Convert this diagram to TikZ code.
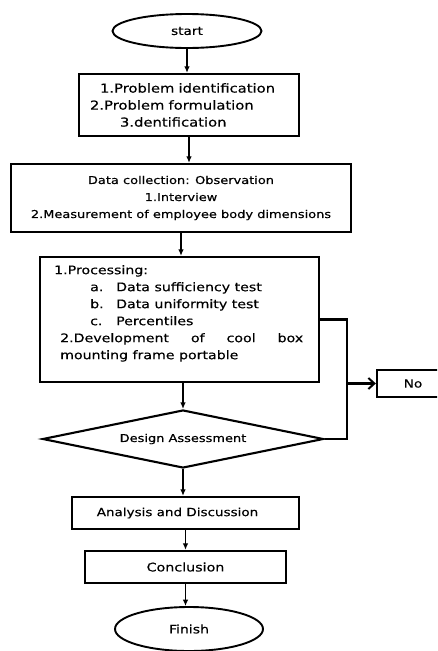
\documentclass[tikz,border=0pt]{standalone}
\usepackage{fontspec}
\setmainfont{DejaVu Sans}[FakeStretch=1.2,FakeBold=0.4]
\usetikzlibrary{shapes.geometric,arrows.meta}
\newcommand{\myfs}[1]{\fontsize{#1}{17}\selectfont}
\tikzset{
  boxst/.style={draw, line width=2.3pt, inner sep=0pt},
  ellst/.style={draw, ellipse, line width=1.9pt, inner sep=0pt},
  diast/.style={draw, diamond, line width=2.1pt, inner sep=0pt, aspect=4.85},
  arr/.style={-{Latex[length=6.5pt,width=5.5pt]}, line width=1.2pt},
  loopst/.style={line width=2.3pt},
  noarr/.style={-{Straight Barb[length=6pt,width=11pt,line width=2pt]}, line width=2.3pt}
}
\begin{document}
\begin{tikzpicture}[x=1pt,y=-1pt]
\path[use as bounding box] (0,0) rectangle (437,651);
\fill[white] (0,0) rectangle (437,651);
\clip (0,0) rectangle (437,651);

\node[ellst, minimum width=149pt, minimum height=34pt, font=\myfs{11.4}] (start) at (187,31) {start};

\node[boxst, minimum width=220pt, minimum height=62pt, text width=198pt, align=left, font=\myfs{12.3}] (idb) at (189,105)
  {\hspace*{10pt}1.Problem identification\\2.Problem formulation\\\hspace*{30pt}3.dentification};

\node[boxst, minimum width=340pt, minimum height=68pt, align=center, font=\myfs{10.8}] (dc) at (181,198)
  {Data collection: Observation\\1.Interview\\2.Measurement of employee body dimensions};

\node[boxst, minimum width=279pt, minimum height=125pt] (proc) at (179.5,319.5) {};
\node[inner sep=0pt, anchor=north west, align=left, font=\myfs{11.8}] (proctext) at (54,265)
  {1.Processing:\\
   \hspace*{36pt}\makebox[26pt][l]{a.}Data sufficiency test\\
   \hspace*{36pt}\makebox[26pt][l]{b.}Data uniformity test\\
   \hspace*{36pt}\makebox[26pt][l]{c.}Percentiles\\
   \hspace*{6pt}\makebox[243pt][s]{2.Development of cool box}\\
   \hspace*{6pt}mounting frame portable};

\node[diast, minimum width=281pt, minimum height=58pt, font=\myfs{10.8}] (dia) at (183,439) {Design Assessment};

\node[boxst, minimum width=227pt, minimum height=32pt, font=\myfs{11.25}] (ana) at (185.5,513) {Analysis and Discussion\hspace*{16pt}};

\node[boxst, minimum width=201pt, minimum height=32pt, font=\myfs{11.9}] (con) at (185.5,567) {Conclusion};

\node[ellst, minimum width=148pt, minimum height=44pt, font=\myfs{11.7}] (fin) at (189,629) {Finish};

\node[boxst, minimum width=86pt, minimum height=27pt, font=\myfs{11.4}] (no) at (420,383.5) {No\hspace*{14pt}};

\coordinate (cr) at (347,383.5);

\draw[arr] (start.south) -- (start.south |- idb.north);
\draw[arr] (idb.south) -- (idb.south |- dc.north);
\draw[arr] (dc.south) -- (dc.south |- proc.north);
\draw[arr] (dia.north |- proc.south) -- (dia.north);
\draw[arr] (dia.south) -- (dia.south |- ana.north);
\draw[arr] (ana.south) -- (ana.south |- con.north);
\draw[arr] (con.south) -- (con.south |- fin.north);

\draw[loopst] (proc.east) -| (cr |- dia.east) -- (dia.east);
\draw[noarr] (cr) -- (no.west);
\end{tikzpicture}
\end{document}
